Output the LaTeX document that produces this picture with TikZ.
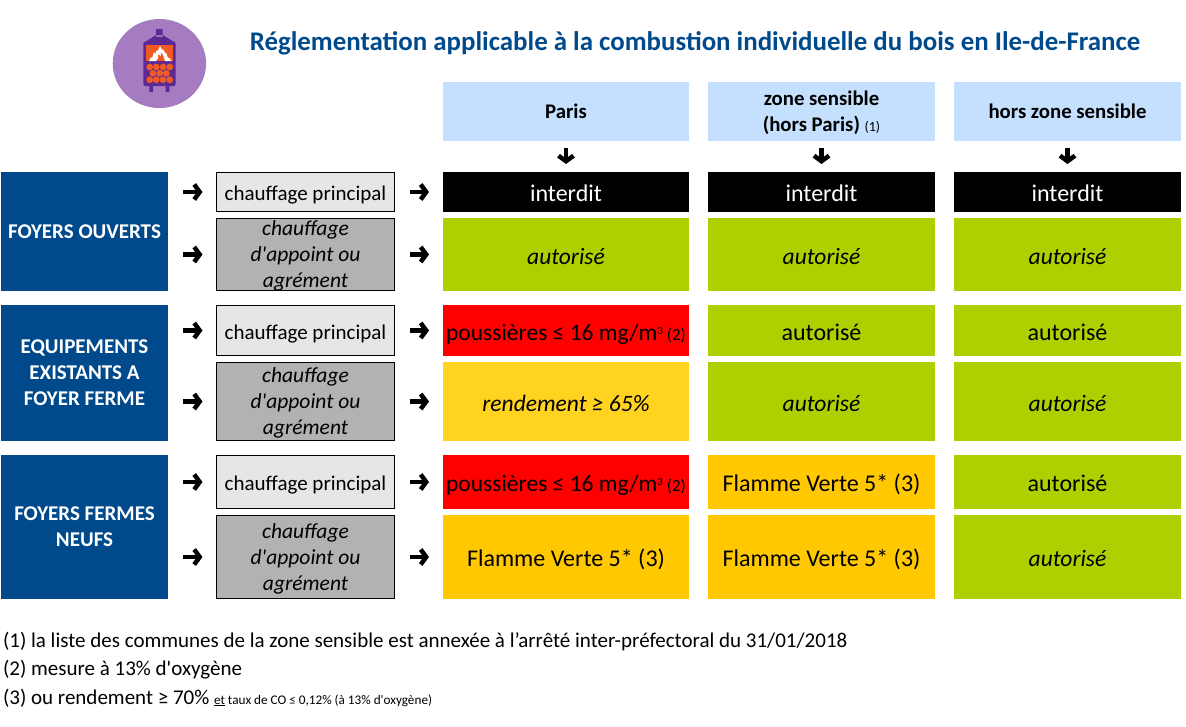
\documentclass[tikz,border=0pt]{standalone}
\usepackage{fontspec}
\setmainfont{Carlito}
\usetikzlibrary{arrows.meta}
\definecolor{bleu}{HTML}{004A8C}
\definecolor{ciel}{HTML}{C5E0FF}
\definecolor{vert}{HTML}{AFD000}
\definecolor{jaune}{HTML}{FFD320}
\definecolor{orange}{HTML}{FFC800}
\definecolor{gris}{HTML}{B2B2B2}
\definecolor{clair}{HTML}{E6E6E6}
\definecolor{violet}{HTML}{A67CC0}
\definecolor{fonce}{HTML}{5C2A92}
\definecolor{feu}{HTML}{F15A22}
\newcommand{\Taille}[1]{\fontsize{#1}{#1}\selectfont}
\tikzset{
base/.style={inner sep=0,outer sep=0,align=center,font=\Taille{24},text depth=0pt},
titre/.style={base,font=\Taille{26.9}\bfseries,text=bleu},
entete/.style={text height=,fill=ciel,minimum height=59pt,font=\Taille{20.8}\bfseries,execute at begin node=\setlength{\baselineskip}{26pt}},
categorie/.style={base,fill=bleu,text=white,minimum width=167pt,font=\Taille{21}\bfseries,execute at begin node=\setlength{\baselineskip}{26pt}},
usage/.style={base,draw=black,line width=1pt,minimum width=178pt,font=\Taille{21}},
principal/.style={usage,fill=clair,text height=17pt},
usagebis/.style={usage,fill=gris,font=\Taille{21.5}\itshape,execute at begin node=\setlength{\baselineskip}{26pt}},
colA/.style={base,minimum width=246pt,text height=19pt},
colB/.style={base,minimum width=227pt,text height=19pt},
colC/.style={base,minimum width=227pt,text height=19pt},
permis/.style={font=\Taille{23.5}\itshape},
note/.style={base,anchor=base west,font=\Taille{21}},
fleche/.style={line width=4.2pt,-{Straight Barb[length=5.5pt,width=15pt,line width=4.5pt]}},
}
\begin{document}
\begin{tikzpicture}[x=1pt,y=-1pt]
\useasboundingbox(0,0)rectangle(1186,726);
\newcommand{\Fleche}[2]{\draw[fleche,shorten <=15pt,shorten >=14pt](#1.east|-#2.west)--(#2.west);}
\newcommand{\Bas}[2]{\draw[fleche,xshift=-1.5pt,shorten <=7pt,shorten >=8pt](#1)--(#2);}
\newcommand{\Petit}[1]{{\Taille{17}#1}}
\newcommand{\Dust}{{\Taille{23.5}poussières ≤ 16 mg/m{\Taille{11}\raisebox{6pt}{3}}\,\Petit{(2)}}}
\newcommand{\App}{chauffage\\d\textquotesingle appoint ou\\agrément}
% icone
\begin{scope}
\fill[violet](159.4,63.5)ellipse(46.7 and 44.5);
\fill[fonce](156,29)rectangle(162.7,37)(156,35)--(162.7,35)--(174,42)--(145,42)--cycle;
\fill[fonce,rounded corners=2pt](143.3,41.7)rectangle(175.7,86);
\fill[fonce](149.3,85)rectangle(153,92)(165.7,85)rectangle(169.3,92);
\fill[feu](146,45)rectangle(173,61);
\fill[white](149,61)--(151,57)--(152,58)--(154,52)--(155,54)--(157,50)--(158,51)--(160,45.7)--(162,50)--(163,49)--(165,53)--(166,52.5)--(168,58)--(169,57.5)--(171.5,61)--(165,61)--(163,55)--(160.5,52)--(161,56)--(158,54)--(158,58)--(156,61)--cycle;
\foreach \bx in {149.7,156.3,163,169.7}{\fill[feu](\bx,67)circle(3.4);\fill[feu](\bx,79.7)circle(3.4);}
\foreach \bx in {153,159.7,166.3}{\fill[feu](\bx,73.3)circle(3.4);}
\end{scope}
\node[titre](titre)at(695,41){Réglementation applicable à la combustion individuelle du bois en Ile-de-France};
% entetes
\node[colA,entete](paris)at(566,111.5){Paris};
\node[colB,entete](zone)at(821.5,111.5){zone sensible\\(hors Paris) {\Taille{14}\mdseries(1)}};
\node[colC,entete](hors)at(1067.5,111.5){hors zone sensible};
% categories
\node[categorie,minimum height=119pt](ouverts)at(84.5,231.5){FOYERS OUVERTS};
\node[categorie,minimum height=136pt](existants)at(84.5,373){EQUIPEMENTS\\EXISTANTS A\\FOYER FERME};
\node[categorie,minimum height=144pt](neufs)at(84.5,527){FOYERS FERMES\\NEUFS};
% usages
\node[principal,minimum height=39pt](uA)at(305.5,192){chauffage principal};
\node[usagebis,minimum height=72pt](uB)at(305.5,254.5){\App};
\node[principal,minimum height=50pt](uC)at(305.5,330.5){chauffage principal};
\node[usagebis,minimum height=78pt](uD)at(305.5,401.5){\App};
\node[principal,minimum height=53pt](uE)at(305.5,482){chauffage principal};
\node[usagebis,minimum height=83pt](uF)at(305.5,557){\App};
% colonne Paris
\node[colA,fill=black,text=white,minimum height=40pt](pA)at(566,192){interdit};
\node[colA,fill=vert,minimum height=73pt,permis](pB)at(566,254.5){autorisé};
\node[colA,fill=red,minimum height=51pt](pC)at(566,330.5){\Dust};
\node[colA,fill=jaune,minimum height=79pt,permis](pD)at(566,401.5){rendement ≥ 65\%};
\node[colA,fill=red,minimum height=54pt](pE)at(566,482){\Dust};
\node[colA,fill=orange,minimum height=84pt](pF)at(566,557){Flamme Verte 5* (3)};
% colonne zone sensible
\node[colB,fill=black,text=white,minimum height=40pt](zA)at(821.5,192){interdit};
\node[colB,fill=vert,minimum height=73pt,permis](zB)at(821.5,254.5){autorisé};
\node[colB,fill=vert,minimum height=51pt](zC)at(821.5,330.5){autorisé};
\node[colB,fill=vert,minimum height=79pt,permis](zD)at(821.5,401.5){autorisé};
\node[colB,fill=orange,minimum height=54pt](zE)at(821.5,482){Flamme Verte 5* (3)};
\node[colB,fill=orange,minimum height=84pt](zF)at(821.5,557){Flamme Verte 5* (3)};
% colonne hors zone
\node[colC,fill=black,text=white,minimum height=40pt](hA)at(1067.5,192){interdit};
\node[colC,fill=vert,minimum height=73pt,permis](hB)at(1067.5,254.5){autorisé};
\node[colC,fill=vert,minimum height=51pt](hC)at(1067.5,330.5){autorisé};
\node[colC,fill=vert,minimum height=79pt,permis](hD)at(1067.5,401.5){autorisé};
\node[colC,fill=vert,minimum height=54pt](hE)at(1067.5,482){autorisé};
\node[colC,fill=vert,minimum height=84pt,permis](hF)at(1067.5,557){autorisé};
% fleches
\Bas{paris}{pA}
\Bas{zone}{zA}
\Bas{hors}{hA}
\Fleche{ouverts}{uA}
\Fleche{ouverts}{uB}
\Fleche{existants}{uC}
\Fleche{existants}{uD}
\Fleche{neufs}{uE}
\Fleche{neufs}{uF}
\Fleche{uA}{pA}
\Fleche{uB}{pB}
\Fleche{uC}{pC}
\Fleche{uD}{pD}
\Fleche{uE}{pE}
\Fleche{uF}{pF}
% notes
\node[note](noteA)at(3,647){(1) la liste des communes de la zone sensible est annexée à l’arrêté inter-préfectoral du 31/01/2018};
\node[note](noteB)at(3,675){(2) mesure à 13\% d\textquotesingle oxygène};
\node[note](noteC)at(3,704){(3) ou rendement ≥ 70\% {\Taille{13.2}\underline{et} taux de CO ≤ 0,12\% (à 13\% d\textquotesingle oxygène)}};
\end{tikzpicture}
\end{document}
